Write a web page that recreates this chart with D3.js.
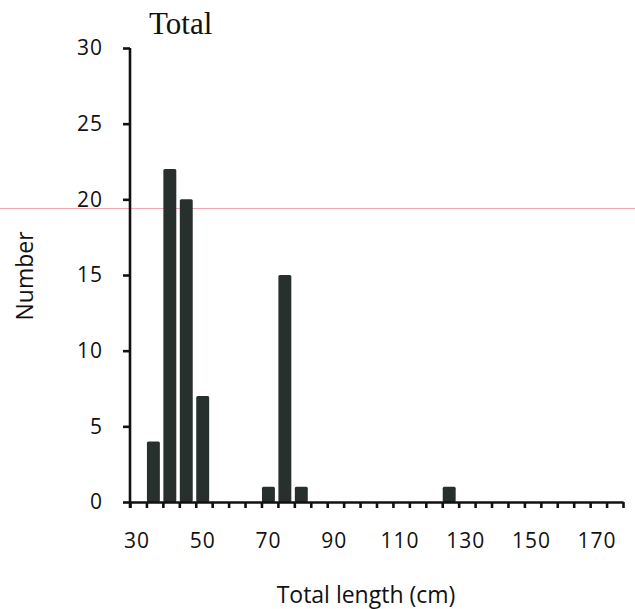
<!DOCTYPE html>
<html>
<head>
<meta charset="utf-8">
<script src="https://cdn.jsdelivr.net/npm/d3@7"></script>
<style>
  body { margin: 0; background: #fff; }
  svg { display: block; }
  .tick-label { font-family: "Open Sans", sans-serif; font-size: 21px; letter-spacing: 1px; fill: #111; }
  .axis-title { font-family: "Open Sans", sans-serif; font-size: 23px; fill: #111; }
</style>
</head>
<body>
<svg id="plotSvg"></svg>
<script>
// bin start (cm), each bin is 5 cm wide
const binStarts = [35, 40, 45, 50, 70, 75, 80, 125];
const counts = [4, 22, 20, 7, 1, 15, 1, 1];
const xTickValues = d3.range(30, 185, 5);
const xLabelValues = [30, 50, 70, 90, 110, 130, 150, 170];
const yTickValues = [0, 5, 10, 15, 20, 25, 30];
const binWidth = 5;

const width = 635, height = 609;

const svg = d3.select("#plotSvg")
    .attr("width", width)
    .attr("height", height);

const x = d3.scaleLinear().domain([30, 180]).range([130, 623]);
const y = d3.scaleLinear().domain([0, 30]).range([502, 48]);

// scan artifact line across the page
svg.append("line")
    .attr("x1", 0).attr("x2", width)
    .attr("y1", 208.5).attr("y2", 208.5)
    .attr("stroke", "#f2a7b8")
    .attr("stroke-width", 1);

// bars
const data = binStarts.map((b, i) => ({ start: b, count: counts[i] }));
svg.selectAll(".bar")
    .data(data)
    .enter().append("rect")
    .attr("class", "bar")
    .attr("x", d => x(d.start) + 0.5)
    .attr("width", d => x(d.start + binWidth) - x(d.start) - 3.5)
    .attr("y", d => y(d.count))
    .attr("height", d => y(0) - y(d.count))
    .attr("rx", 1.5)
    .attr("fill", "#28302e");

// y axis
const yAxis = d3.axisLeft(y)
    .tickValues(yTickValues)
    .tickSize(7)
    .tickPadding(20)
    .tickFormat(d3.format("d"));
const gy = svg.append("g")
    .attr("transform", `translate(${x(30)},0)`)
    .call(yAxis);
gy.select(".domain").attr("d", `M0,${y(30)}V${y(0) + 6}`);
gy.selectAll("path, line").attr("stroke", "#111").attr("stroke-width", 2.6);
gy.selectAll("text").attr("class", "tick-label").attr("font-size", null).attr("font-family", null);

// x axis
const xAxis = d3.axisBottom(x)
    .tickValues(xTickValues)
    .tickSize(6)
    .tickSizeOuter(0)
    .tickFormat("");
const gx = svg.append("g")
    .attr("transform", `translate(0,${y(0)})`)
    .call(xAxis);
gx.selectAll("path, line").attr("stroke", "#111").attr("stroke-width", 2.6);

svg.selectAll(".x-label")
    .data(xLabelValues)
    .enter().append("text")
    .attr("class", "tick-label")
    .attr("x", d => x(d) + 7)
    .attr("y", 548)
    .attr("text-anchor", "middle")
    .text(d => d);

// titles
svg.append("text")
    .attr("x", 149)
    .attr("y", 34)
    .attr("font-family", "'Liberation Serif', 'Times New Roman', serif")
    .attr("font-size", 31)
    .attr("fill", "#111")
    .text("Total");

svg.append("text")
    .attr("class", "axis-title")
    .attr("x", 366)
    .attr("y", 603)
    .attr("text-anchor", "middle")
    .text("Total length (cm)");

svg.append("text")
    .attr("class", "axis-title")
    .attr("transform", "translate(33,276) rotate(-90)")
    .attr("text-anchor", "middle")
    .text("Number");
</script>
</body>
</html>
